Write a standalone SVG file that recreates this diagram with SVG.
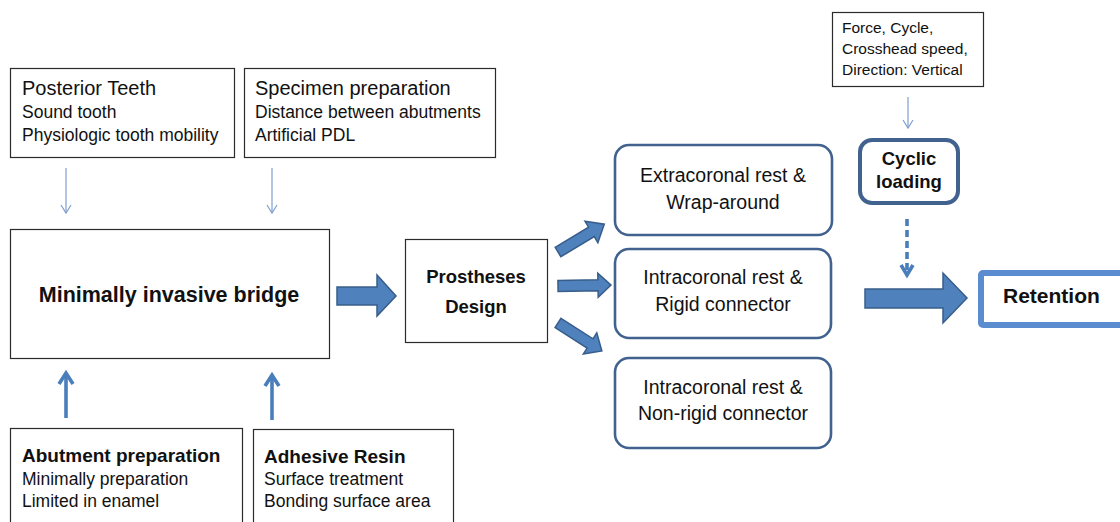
<svg xmlns="http://www.w3.org/2000/svg" width="1120" height="522" viewBox="0 0 1120 522">
  <style>
    .box { fill: #ffffff; stroke: #2b2b2b; stroke-width: 1.2; }
    .rbox { fill: #ffffff; stroke: #41628e; stroke-width: 2.6; }
    .t { font-family: "Liberation Sans", Arial, sans-serif; fill: #111111; }
    .title { font-size: 20px; }
    .body { font-size: 17.5px; }
    .bt { font-size: 19px; font-weight: bold; }
    .rt { font-size: 19.5px; text-anchor: middle; }
    .mid { text-anchor: middle; }
    .thin { stroke: #7f9fd0; stroke-width: 1.2; fill: none; }
    .thick { stroke: #4a7ebb; stroke-width: 3.6; fill: none; }
    .block { fill: #4f81bd; stroke: #385d8a; stroke-width: 1.5; }
  </style>
  <rect width="1120" height="522" fill="#ffffff"/>

  <g id="posterior-teeth">
    <rect class="box" x="10.5" y="68.5" width="224" height="89"/>
    <text class="t title" x="22" y="95">Posterior Teeth</text>
    <text class="t body" x="22" y="118">Sound tooth</text>
    <text class="t body" x="22" y="141">Physiologic tooth mobility</text>
  </g>

  <g id="specimen-preparation">
    <rect class="box" x="244.5" y="68.5" width="251" height="89"/>
    <text class="t title" x="255" y="95">Specimen preparation</text>
    <text class="t body" x="255" y="118">Distance between abutments</text>
    <text class="t body" x="255" y="141">Artificial PDL</text>
  </g>

  <g id="minimally-invasive-bridge">
    <rect class="box" x="10.5" y="229.5" width="319" height="129"/>
    <text class="t mid" x="169" y="302" font-size="21.5" font-weight="bold">Minimally invasive bridge</text>
  </g>

  <g id="prostheses-design">
    <rect class="box" x="405.5" y="239.5" width="142" height="103"/>
    <text class="t mid" x="476" y="283" font-size="18.5" font-weight="bold">Prostheses</text>
    <text class="t mid" x="476" y="313" font-size="18.5" font-weight="bold">Design</text>
  </g>

  <g id="abutment-preparation">
    <rect class="box" x="10.5" y="428.5" width="232" height="100"/>
    <text class="t bt" x="22" y="462">Abutment preparation</text>
    <text class="t body" x="22" y="485">Minimally preparation</text>
    <text class="t body" x="22" y="507">Limited in enamel</text>
  </g>

  <g id="adhesive-resin">
    <rect class="box" x="253.5" y="429.5" width="200" height="100"/>
    <text class="t bt" x="264" y="463">Adhesive Resin</text>
    <text class="t body" x="264" y="485">Surface treatment</text>
    <text class="t body" x="264" y="507">Bonding surface area</text>
  </g>

  <g id="extracoronal">
    <rect class="rbox" x="615" y="145" width="217" height="90" rx="14"/>
    <text class="t rt" x="723" y="182">Extracoronal rest &amp;</text>
    <text class="t rt" x="723" y="209">Wrap-around</text>
  </g>

  <g id="intracoronal-rigid">
    <rect class="rbox" x="615" y="249" width="216" height="89" rx="14"/>
    <text class="t rt" x="723" y="284">Intracoronal rest &amp;</text>
    <text class="t rt" x="723" y="311">Rigid connector</text>
  </g>

  <g id="intracoronal-nonrigid">
    <rect class="rbox" x="615" y="358" width="216" height="90" rx="14"/>
    <text class="t rt" x="723" y="394">Intracoronal rest &amp;</text>
    <text class="t rt" x="723" y="420">Non-rigid connector</text>
  </g>

  <g id="loading-parameters">
    <rect class="box" x="832.5" y="12.5" width="151" height="74"/>
    <text class="t" x="842" y="33" font-size="15.5">Force, Cycle,</text>
    <text class="t" x="842" y="54" font-size="15.5">Crosshead speed,</text>
    <text class="t" x="842" y="75" font-size="15.5">Direction: Vertical</text>
  </g>

  <g id="cyclic-loading">
    <rect x="860" y="140" width="98" height="63" rx="12" fill="#ffffff" stroke="#41628e" stroke-width="4"/>
    <text class="t mid" x="909" y="165" font-size="18.5" font-weight="bold">Cyclic</text>
    <text class="t mid" x="909" y="188" font-size="18.5" font-weight="bold">loading</text>
  </g>

  <g id="retention">
    <rect x="981" y="273" width="150" height="52" rx="2" fill="#ffffff" stroke="#5b8cd0" stroke-width="6"/>
    <text class="t" x="1003" y="303" font-size="21" font-weight="bold">Retention</text>
  </g>

  <g id="connectors">
    <line class="thin" x1="66" y1="168" x2="66" y2="213"/>
    <polyline class="thin" points="61,205 66,213 71,205"/>
    <line class="thin" x1="272" y1="168" x2="272" y2="213"/>
    <polyline class="thin" points="267,205 272,213 277,205"/>
    <line class="thin" x1="908" y1="97" x2="908" y2="128"/>
    <polyline class="thin" points="903,120 908,128 913,120"/>

    <line class="thick" x1="66" y1="418" x2="66" y2="374"/>
    <polyline class="thick" points="59,384 66,373 73,384"/>
    <line class="thick" x1="272" y1="420" x2="272" y2="376"/>
    <polyline class="thick" points="265,386 272,375 279,386"/>

    <line class="thick" x1="907" y1="219" x2="907" y2="272" stroke-width="3" stroke-dasharray="7,4"/>
    <polyline class="thick" points="901,265 907,275 913,265" stroke-width="3"/>

    <polygon class="block" points="337,287 377,287 377,275 396,296 377,316 377,305 337,305"/>
    <polygon class="block" points="865,289 943,289 943,273 967,298 943,323 943,308 865,308"/>
    <polygon class="block" points="0,-5.5 39,-5.5 39,-12.5 54,0 39,12.5 39,5.5 0,5.5" transform="translate(558,252) rotate(-31)"/>
    <polygon class="block" points="0,-5.5 40,-5.5 40,-12 53,0 40,12 40,5.5 0,5.5" transform="translate(558,286) rotate(-1)"/>
    <polygon class="block" points="0,-5.5 38,-5.5 38,-12.5 52,0 38,12.5 38,5.5 0,5.5" transform="translate(558,323) rotate(32.5)"/>
  </g>
</svg>
